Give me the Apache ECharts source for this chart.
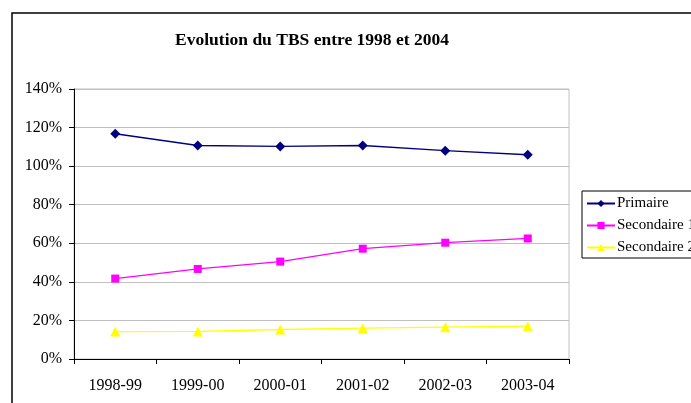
<!DOCTYPE html>
<html>
<head>
<meta charset="utf-8">
<script src="https://cdn.jsdelivr.net/npm/echarts@6/dist/echarts.min.js"></script>
<style>
    html, body { margin: 0; padding: 0; background: #fff; }
    #chart-tbs { width: 691px; height: 403px; }
</style>
</head>
<body>
<div id="chart-tbs"></div>
<script>
// data
var years = ['1998-99', '1999-00', '2000-01', '2001-02', '2002-03', '2003-04'];
var primaire = [1.168, 1.107, 1.102, 1.107, 1.080, 1.059];
var secondaire1 = [0.417, 0.467, 0.505, 0.572, 0.603, 0.625];
var secondaire2 = [0.142, 0.143, 0.153, 0.160, 0.165, 0.170];
var yTicks = [0, 0.2, 0.4, 0.6, 0.8, 1.0, 1.2, 1.4];

var serif = '"Liberation Serif", "DejaVu Serif", serif';

var dom = document.getElementById('chart-tbs');
var myChart = echarts.init(dom);
var option = null;

function lineSeries(name, data, color, symbol, size) {
    return {
        name: name,
        type: 'line',
        data: data,
        symbol: symbol,
        symbolSize: size,
        lineStyle: { color: color, width: 1.3 },
        itemStyle: { color: color },
        animation: false
    };
}

option = {
    backgroundColor: '#fff',
    title: {
        text: 'Evolution du TBS entre 1998 et 2004',
        left: 307,
        textAlign: 'center',
        top: 26,
        textStyle: { fontFamily: serif, fontSize: 17.5, fontWeight: 'bold', color: '#000' }
    },
    legend: {
        data: ['Primaire', 'Secondaire 1', 'Secondaire 2'],
        orient: 'vertical',
        left: 582,
        top: 191,
        padding: [5, 6, 3, 4],
        itemGap: 7,
        itemWidth: 28,
        itemHeight: 9,
        borderColor: '#000',
        borderWidth: 1,
        textStyle: {
            fontFamily: serif,
            fontSize: 15,
            color: '#000',
            overflow: 'none',
            width: 110,
            padding: [0, 0, 0, -3]
        }
    },
    grid: {
        left: 74,
        right: 122,
        top: 89,
        bottom: 44,
        show: true,
        borderColor: '#c0c0c0',
        borderWidth: 1
    },
    xAxis: {
        type: 'category',
        data: years,
        boundaryGap: true,
        axisLine: { lineStyle: { color: '#000', width: 1 } },
        axisTick: { show: true, length: 5, inside: false, lineStyle: { color: '#000' } },
        axisLabel: { fontFamily: serif, fontSize: 16, color: '#000', margin: 19 }
    },
    yAxis: {
        type: 'value',
        min: 0,
        max: 1.4,
        interval: 0.2,
        axisLine: { show: true, lineStyle: { color: '#000', width: 1 } },
        axisTick: { show: true, length: 5, lineStyle: { color: '#000' } },
        axisLabel: {
            fontFamily: serif,
            fontSize: 16,
            color: '#000',
            margin: 12,
            formatter: function (v) {
                return Math.round(v * 100) + '%';
            }
        },
        splitLine: { lineStyle: { color: '#c0c0c0', width: 1 } }
    },
    series: [
        lineSeries('Primaire', primaire, '#000080', 'diamond', 10),
        lineSeries('Secondaire 1', secondaire1, '#ff00ff', 'rect', 8),
        lineSeries('Secondaire 2', secondaire2, '#ffff00', 'triangle', 10)
    ],
    graphic: [{
        type: 'rect',
        shape: { x: 12, y: 13, width: 800, height: 500 },
        style: { fill: null, stroke: '#000', lineWidth: 1.5 },
        silent: true
    }]
};

if (option && typeof option === 'object') {
    myChart.setOption(option);
}
</script>
</body>
</html>
